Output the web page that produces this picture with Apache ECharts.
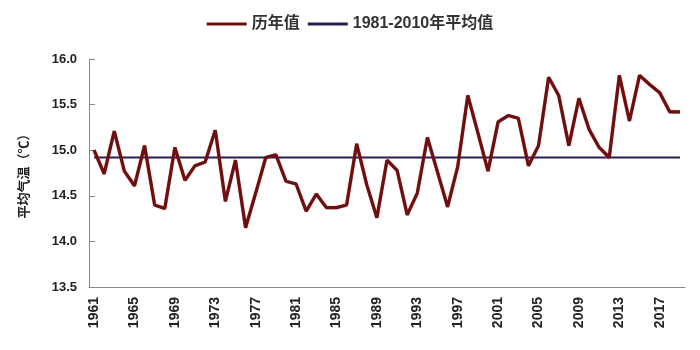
<!DOCTYPE html>
<html><head><meta charset="utf-8">
<script src="https://cdn.jsdelivr.net/npm/echarts@6/dist/echarts.min.js"></script>
<style>html,body{margin:0;padding:0;background:#fff}#c{width:700px;height:350px}</style>
</head><body><div id="c"></div>
<script>
const years = [];
for (let y = 1961; y <= 2019; y++) years.push(String(y));
const annualValues = [
  15.00, 14.74, 15.21, 14.77, 14.61, 15.05, 14.40, 14.36, 15.03, 14.67,
  14.83, 14.87, 15.22, 14.44, 14.89, 14.15, 14.53, 14.92, 14.95, 14.66,
  14.63, 14.33, 14.52, 14.37, 14.37, 14.40, 15.07, 14.62, 14.26, 14.89,
  14.78, 14.29, 14.53, 15.14, 14.76, 14.38, 14.82, 15.60, 15.19, 14.77,
  15.31, 15.38, 15.35, 14.83, 15.05, 15.80, 15.60, 15.05, 15.57, 15.23,
  15.03, 14.92, 15.82, 15.32, 15.82, 15.72, 15.63, 15.42, 15.42
];
const baselineValue = 14.92;
const seriesNames = ['历年值', '1981-2010年平均值'];
const yTicks = { min: 13.5, max: 16.0, interval: 0.5 };

const font = '"Liberation Sans", "Noto Sans CJK SC", sans-serif';
const chart = echarts.init(document.getElementById('c'));
chart.setOption({
  animation: false,
  backgroundColor: '#fff',
  textStyle: { fontFamily: font },
  legend: {
    top: 11, left: 'center',
    itemWidth: 40, itemHeight: 3, itemGap: 8,
    textStyle: { fontSize: 16, fontWeight: 'bold', color: '#333', fontFamily: font },
    data: [
      { name: seriesNames[0], icon: 'rect' },
      { name: seriesNames[1], icon: 'rect' }
    ]
  },
  grid: { left: 89, right: 15, top: 59, bottom: 63 },
  xAxis: {
    type: 'category', data: years, boundaryGap: true,
    axisLine: { lineStyle: { color: '#888', width: 1 } },
    axisTick: { inside: true, length: 5, interval: 0, lineStyle: { color: '#888' } },
    axisLabel: { interval: 3, rotate: 90, fontSize: 14, fontWeight: 'bold', color: '#222', margin: 10, fontFamily: font }
  },
  yAxis: {
    type: 'value', min: yTicks.min, max: yTicks.max, interval: yTicks.interval,
    name: '平均气温（℃）', nameLocation: 'middle', nameGap: 58, nameRotate: 90,
    nameTextStyle: { fontSize: 13, fontWeight: 'bold', color: '#222', fontFamily: font },
    splitLine: { show: false },
    axisLine: { show: true, lineStyle: { color: '#888', width: 1 } },
    axisTick: { show: true, inside: true, length: 6, lineStyle: { color: '#888' } },
    axisLabel: { fontSize: 13, fontWeight: 'bold', color: '#222', margin: 12,
      formatter: v => v.toFixed(1), fontFamily: font }
  },
  series: [
    {
      name: seriesNames[0], type: 'line', data: annualValues,
      symbol: 'none', z: 3,
      lineStyle: { color: '#6a1010', width: 3.2, shadowColor: 'rgba(200,30,30,0.6)', shadowBlur: 1 },
      itemStyle: { color: '#6a1010' }
    },
    {
      name: seriesNames[1], type: 'line', data: years.map(() => baselineValue),
      symbol: 'none', z: 2,
      lineStyle: { color: '#2b1d4e', width: 2 },
      itemStyle: { color: '#2b1d4e' }
    }
  ]
});
</script></body></html>
